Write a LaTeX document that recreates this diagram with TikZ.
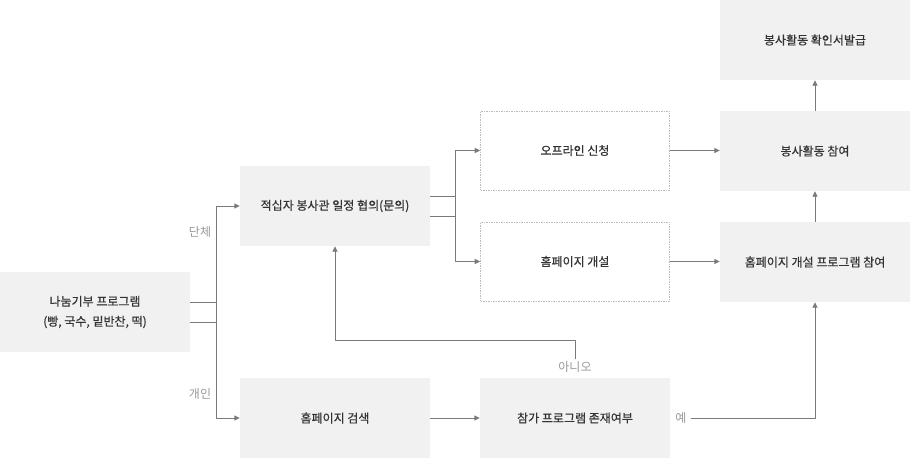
\documentclass[tikz,border=0pt]{standalone}
\usepackage{fontspec}
\setmainfont{Noto Sans CJK KR}
\newfontfamily\boxfont[FakeBold=0.6]{Noto Sans CJK KR}
\usetikzlibrary{arrows.meta}
\definecolor{boxfill}{HTML}{F1F1F1}
\definecolor{linegray}{HTML}{7A7A7A}
\definecolor{textdark}{HTML}{333333}
\definecolor{lblgray}{HTML}{999999}
\definecolor{dashgray}{HTML}{BBBBBB}
\tikzset{
  box/.style={fill=boxfill, minimum width=190pt, minimum height=80pt, inner sep=0pt,
    text=textdark, align=center, font=\boxfont\fontsize{12}{20}\selectfont},
  dashbox/.style={box, fill=white, draw=dashgray, line width=0.6pt, dash pattern=on 1.5pt off 1pt,
    minimum width=189pt, minimum height=79pt},
  link/.style={draw=linegray, line width=0.9pt, -{Triangle[length=5.5pt,width=5pt]}},
  lbl/.style={text=lblgray, inner sep=1pt, font=\fontsize{12}{14}\selectfont}
}
\begin{document}
\begin{tikzpicture}[x=1pt, y=-1pt, line join=round]
	\useasboundingbox (0,0) rectangle (910,458);
	% boxes
	\node[box] (give) at (95,312) {나눔기부 프로그램\\(빵, 국수, 밑반찬, 떡)};
	\node[box] (consult) at (335,206) {적십자 봉사관 일정 협의(문의)};
	\node[dashbox] (offline) at (575,150.5) {오프라인 신청};
	\node[dashbox] (openweb) at (575,261.5) {홈페이지 개설};
	\node[box] (join) at (815,151) {봉사활동 참여};
	\node[box] (webjoin) at (815,262) {홈페이지 개설 프로그램 참여};
	\node[box] (cert) at (815,40) {봉사활동 확인서발급};
	\node[box] (search) at (335,418) {홈페이지 검색};
	\node[box] (exist) at (575,418) {참가 프로그램 존재여부};
	% labels
	\node[lbl] (group) at (200,232) {단체};
	\node[lbl] (single) at (200,394) {개인};
	\node[lbl] (no) at (575,367) {아니오};
	\node[lbl] (yes) at (681,418) {예};
	% connectors
	\draw[link] ([yshift=-10pt]give.east) -| (216,206) -- (consult.west);
	\draw[link] ([yshift=10pt]give.east) -| (216,418) -- (search.west);
	\draw[link] ([yshift=-10pt]consult.east) -| (455,150.5) -- (offline.west);
	\draw[link] ([yshift=10pt]consult.east) -| (455,261.5) -- (openweb.west);
	\draw[link] (offline.east) -- (offline.east -| join.west);
	\draw[link] (openweb.east) -- (openweb.east -| webjoin.west);
	\draw[link] (webjoin.north) -- (join.south);
	\draw[link] (join.north) -- (cert.south);
	\draw[link] (search.east) -- (exist.west);
	\draw[link] ([yshift=1pt]no.north) |- (335,340) -- (consult.south);
	\draw[link] ([xshift=3pt]yes.east) -| (webjoin.south);
\end{tikzpicture}
\end{document}
